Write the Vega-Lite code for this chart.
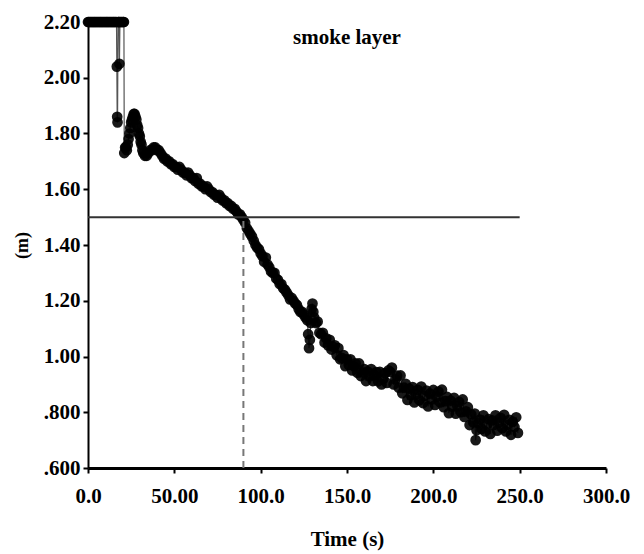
{
"$schema": "https://vega.github.io/schema/vega-lite/v6.json",
"width": 518, "height": 446,
"autosize": {"type": "none"},
"padding": {"left": 88, "top": 22, "right": 38, "bottom": 86},
"background": "white",
"config": {"view": {"stroke": null}, "font": "Liberation Serif"},
"title": {"text": "smoke layer", "font": "Liberation Serif", "fontWeight": "bold", "fontSize": 21, "anchor": "middle", "baseline": "alphabetic", "offset": -20, "dy": 34, "color": "black"},
"data": {"values": [
{"t":0,"h":2.2},{"t":0.5,"h":2.2},{"t":1,"h":2.2},{"t":1.5,"h":2.2},{"t":2,"h":2.2},{"t":2.5,"h":2.2},{"t":3,"h":2.2},{"t":3.5,"h":2.2},{"t":4,"h":2.2},{"t":4.5,"h":2.2},{"t":5,"h":2.2},{"t":5.5,"h":2.2},{"t":6,"h":2.2},{"t":6.5,"h":2.2},{"t":7,"h":2.2},{"t":7.5,"h":2.2},{"t":8,"h":2.2},{"t":8.5,"h":2.2},{"t":9,"h":2.2},{"t":9.5,"h":2.2},{"t":10,"h":2.2},{"t":10.5,"h":2.2},{"t":11,"h":2.2},{"t":11.5,"h":2.2},{"t":12,"h":2.2},{"t":12.5,"h":2.2},{"t":13,"h":2.2},{"t":13.5,"h":2.2},{"t":14,"h":2.2},{"t":14.5,"h":2.2},{"t":15,"h":2.2},{"t":15.5,"h":2.2},{"t":16,"h":2.2},{"t":16.5,"h":2.2},
{"t":16.7,"h":2.04},{"t":16.9,"h":1.86},{"t":17.1,"h":1.84},{"t":17.4,"h":2.2},{"t":17.7,"h":2.2},{"t":18.0,"h":2.2},{"t":18.2,"h":2.05},{"t":18.5,"h":2.2},{"t":19,"h":2.2},{"t":19.5,"h":2.2},{"t":20,"h":2.2},{"t":20.5,"h":2.2},{"t":20.8,"h":2.2},
{"t":21,"h":1.73},{"t":21.5,"h":1.75},{"t":22,"h":1.75},{"t":22.5,"h":1.74},{"t":23,"h":1.76},{"t":23.5,"h":1.78},{"t":24,"h":1.8},{"t":24.5,"h":1.82},{"t":25,"h":1.84},{"t":25.5,"h":1.85},{"t":26,"h":1.86},{"t":26.5,"h":1.87},{"t":27,"h":1.87},{"t":27.5,"h":1.86},{"t":28,"h":1.85},{"t":28.5,"h":1.83},{"t":29,"h":1.82},{"t":29.5,"h":1.8},{"t":30,"h":1.79},{"t":30.5,"h":1.77},{"t":31,"h":1.76},{"t":31.5,"h":1.74},{"t":32,"h":1.73},{"t":33,"h":1.72},{"t":34,"h":1.72},{"t":35,"h":1.73},{"t":36,"h":1.74},{"t":37,"h":1.74},{"t":38,"h":1.75},{"t":39,"h":1.75},{"t":40,"h":1.74},
{"t":41,"h":1.74},{"t":42,"h":1.73},{"t":43,"h":1.72},{"t":44,"h":1.71},{"t":45,"h":1.71},{"t":46,"h":1.7},{"t":47,"h":1.7},{"t":48,"h":1.69},{"t":49,"h":1.69},{"t":50,"h":1.68},{"t":51,"h":1.68},{"t":52,"h":1.67},{"t":53,"h":1.68},{"t":54,"h":1.67},{"t":55,"h":1.66},{"t":56,"h":1.66},{"t":57,"h":1.65},{"t":58,"h":1.66},{"t":59,"h":1.65},{"t":60,"h":1.64},
{"t":61,"h":1.64},{"t":62,"h":1.63},{"t":63,"h":1.64},{"t":64,"h":1.62},{"t":65,"h":1.62},{"t":66,"h":1.61},{"t":67,"h":1.61},{"t":68,"h":1.6},{"t":69,"h":1.61},{"t":70,"h":1.6},{"t":71,"h":1.59},{"t":72,"h":1.59},{"t":73,"h":1.58},{"t":74,"h":1.58},{"t":75,"h":1.57},{"t":76,"h":1.58},{"t":77,"h":1.57},{"t":78,"h":1.56},{"t":79,"h":1.56},{"t":80,"h":1.55},
{"t":81,"h":1.55},{"t":82,"h":1.54},{"t":83,"h":1.54},{"t":84,"h":1.53},{"t":85,"h":1.53},{"t":86,"h":1.52},{"t":87,"h":1.51},{"t":88,"h":1.51},{"t":89,"h":1.5},{"t":90,"h":1.49},{"t":91,"h":1.48},{"t":92,"h":1.46},{"t":93,"h":1.45},{"t":94,"h":1.44},{"t":95,"h":1.43},{"t":96,"h":1.415},{"t":97,"h":1.4},{"t":98,"h":1.39},{"t":99,"h":1.385},{"t":100,"h":1.37},
{"t":101,"h":1.36},{"t":102,"h":1.34},{"t":103,"h":1.355},{"t":104,"h":1.33},{"t":105,"h":1.32},{"t":106,"h":1.305},{"t":107,"h":1.3},{"t":108,"h":1.3},{"t":109,"h":1.28},{"t":110,"h":1.275},{"t":111,"h":1.26},{"t":112,"h":1.26},{"t":113,"h":1.245},{"t":114,"h":1.24},{"t":115,"h":1.23},{"t":116,"h":1.22},{"t":117,"h":1.205},{"t":118,"h":1.21},{"t":119,"h":1.2},{"t":120,"h":1.19},
{"t":121,"h":1.185},{"t":122,"h":1.17},{"t":123,"h":1.16},{"t":124,"h":1.16},{"t":125,"h":1.15},{"t":126,"h":1.14},{"t":127,"h":1.13},{"t":127.5,"h":1.08},{"t":128,"h":1.03},{"t":128.5,"h":1.06},{"t":129,"h":1.12},{"t":129.5,"h":1.17},{"t":130,"h":1.19},{"t":130.5,"h":1.16},
{"t":131,"h":1.14},{"t":132,"h":1.12},{"t":133,"h":1.125},{"t":134,"h":1.085},{"t":135,"h":1.08},{"t":136,"h":1.085},{"t":137,"h":1.05},{"t":138,"h":1.065},{"t":139,"h":1.04},{"t":140,"h":1.06},
{"t":141,"h":1.025},{"t":142,"h":1.035},{"t":143,"h":1.04},{"t":144,"h":1.005},{"t":145,"h":1.03},{"t":146,"h":0.99},{"t":147,"h":0.995},{"t":148,"h":1.005},{"t":149,"h":0.965},{"t":150,"h":0.99},
{"t":151,"h":0.97},{"t":152,"h":0.99},{"t":153,"h":0.95},{"t":154,"h":0.965},{"t":155,"h":0.975},{"t":156,"h":0.942},{"t":157,"h":0.975},{"t":158,"h":0.93},{"t":159,"h":0.943},{"t":160,"h":0.955},
{"t":161,"h":0.912},{"t":162,"h":0.946},{"t":163,"h":0.929},{"t":164,"h":0.955},{"t":165,"h":0.912},{"t":166,"h":0.932},{"t":167,"h":0.944},{"t":168,"h":0.911},{"t":169,"h":0.945},{"t":170,"h":0.9},
{"t":171,"h":0.92},{"t":172,"h":0.94},{"t":173,"h":0.905},{"t":174,"h":0.95},{"t":175,"h":0.945},{"t":176,"h":0.96},{"t":177,"h":0.9},{"t":178,"h":0.918},{"t":179,"h":0.931},{"t":180,"h":0.888},
{"t":181,"h":0.932},{"t":182,"h":0.868},{"t":183,"h":0.888},{"t":184,"h":0.902},{"t":185,"h":0.844},{"t":186,"h":0.885},{"t":187,"h":0.861},{"t":188,"h":0.89},{"t":189,"h":0.835},{"t":190,"h":0.864},
{"t":191,"h":0.88},{"t":192,"h":0.843},{"t":193,"h":0.892},{"t":194,"h":0.833},{"t":195,"h":0.859},{"t":196,"h":0.878},{"t":197,"h":0.821},{"t":198,"h":0.867},{"t":199,"h":0.846},{"t":200,"h":0.88},
{"t":201,"h":0.826},{"t":202,"h":0.856},{"t":203,"h":0.874},{"t":204,"h":0.835},{"t":205,"h":0.881},{"t":206,"h":0.818},{"t":207,"h":0.84},{"t":208,"h":0.855},{"t":209,"h":0.797},{"t":210,"h":0.842},
{"t":211,"h":0.82},{"t":212,"h":0.852},{"t":213,"h":0.795},{"t":214,"h":0.821},{"t":215,"h":0.837},{"t":216,"h":0.8},{"t":217,"h":0.846},{"t":218,"h":0.783},{"t":219,"h":0.803},{"t":220,"h":0.818},
{"t":221,"h":0.754},{"t":222,"h":0.792},{"t":223,"h":0.764},{"t":224,"h":0.795},{"t":224.5,"h":0.7},{"t":225,"h":0.736},{"t":226,"h":0.761},{"t":227,"h":0.774},{"t":228,"h":0.74},{"t":229,"h":0.789},{"t":230,"h":0.731},
{"t":231,"h":0.756},{"t":232,"h":0.775},{"t":233,"h":0.722},{"t":234,"h":0.771},{"t":235,"h":0.754},{"t":236,"h":0.789},{"t":237,"h":0.734},{"t":238,"h":0.763},{"t":239,"h":0.78},{"t":240,"h":0.743},
{"t":241,"h":0.791},{"t":242,"h":0.731},{"t":243,"h":0.755},{"t":244,"h":0.773},{"t":245,"h":0.719},{"t":246,"h":0.766},{"t":247,"h":0.747},{"t":248,"h":0.782},{"t":249,"h":0.726}
]},
"encoding": {
  "x": {"field": "t", "type": "quantitative", "scale": {"domain": [0, 300], "nice": false},
    "axis": {"values": [0, 50, 100, 150, 200, 250, 300], "labelExpr": "datum.value == 0 ? '0.0' : datum.value == 50 ? '50.00' : format(datum.value, '.1f')",
      "title": "Time (s)", "grid": false, "domainColor": "black", "domainWidth": 3, "tickColor": "black", "tickSize": 5, "tickWidth": 2, "labelFlush": false, "labelOverlap": false,
      "labelFont": "Liberation Serif", "labelFontSize": 21, "labelFontWeight": "bold", "labelColor": "black", "labelPadding": 12,
      "titleFont": "Liberation Serif", "titleFontSize": 21, "titleFontWeight": "bold", "titleColor": "black", "titlePadding": 22}},
  "y": {"field": "h", "type": "quantitative", "scale": {"domain": [0.6, 2.2], "nice": false, "zero": false},
    "axis": {"values": [0.6, 0.8, 1.0, 1.2, 1.4, 1.6, 1.8, 2.0, 2.2], "labelExpr": "datum.value < 0.99 ? replace(format(datum.value, '.3f'), '0.', '.') : format(datum.value, '.2f')",
      "title": "(m)", "grid": false, "domainColor": "black", "domainWidth": 2, "tickColor": "black", "tickSize": 5, "tickWidth": 2, "labelFlush": false, "labelOverlap": false,
      "labelFont": "Liberation Serif", "labelFontSize": 21, "labelFontWeight": "bold", "labelColor": "black", "labelPadding": 3,
      "titleFont": "Liberation Serif", "titleFontSize": 18, "titleFontWeight": "bold", "titleColor": "black", "titlePadding": 12}}
},
"layer": [
  {"mark": {"type": "line", "color": "#555", "strokeWidth": 1.2}},
  {"mark": {"type": "point", "filled": true, "size": 115, "color": "#000", "opacity": 0.9}},
  {"data": {"values": [{"t0": 0, "t1": 250, "hl": 1.5}]},
   "mark": {"type": "rule", "color": "#333", "strokeWidth": 2},
   "encoding": {"x": {"field": "t0", "type": "quantitative"}, "x2": {"field": "t1"}, "y": {"field": "hl", "type": "quantitative"}}},
  {"data": {"values": [{"tc": 90, "y0": 0.6, "y1": 1.5}]},
   "mark": {"type": "rule", "color": "#777", "strokeWidth": 2, "strokeDash": [7, 5]},
   "encoding": {"x": {"field": "tc", "type": "quantitative"}, "y": {"field": "y0", "type": "quantitative"}, "y2": {"field": "y1"}}}
]
}
